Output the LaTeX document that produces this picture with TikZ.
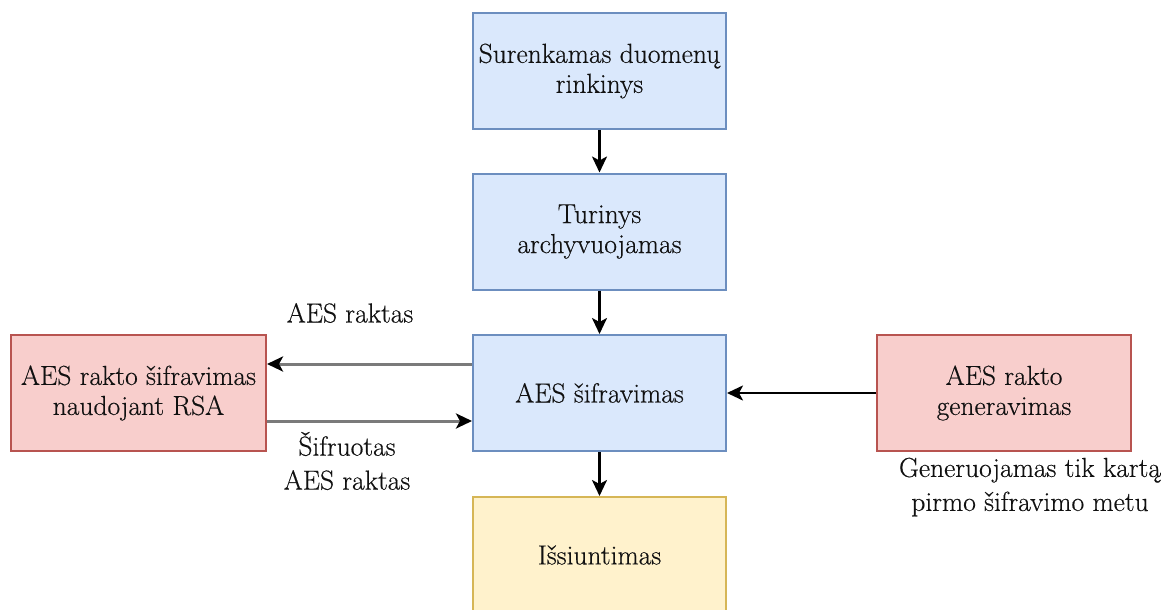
\documentclass[tikz,border=0pt]{standalone}
\usepackage{fontspec}
\setmainfont{Latin Modern Roman}[FakeBold=0.4]
\usetikzlibrary{arrows.meta}
\definecolor{bluefill}{HTML}{DAE8FC}
\definecolor{bluedraw}{HTML}{6C8EBF}
\definecolor{redfill}{HTML}{F8CECC}
\definecolor{reddraw}{HTML}{B85450}
\definecolor{yelfill}{HTML}{FFF2CC}
\definecolor{yeldraw}{HTML}{D6B656}
\definecolor{keyline}{HTML}{7A7A7A}
\definecolor{txt}{HTML}{111111}
\tikzset{
  box/.style={draw, line width=2pt, minimum width=253pt, minimum height=116pt,
    align=center, inner sep=0pt, text=txt, font=\fontsize{27.5}{30}\selectfont},
  bluebox/.style={box, fill=bluefill, draw=bluedraw},
  redbox/.style={box, fill=redfill, draw=reddraw, minimum width=255pt},
  yelbox/.style={box, fill=yelfill, draw=yeldraw},
  lbl/.style={align=center, text=txt, font=\fontsize{27.5}{34}\selectfont, inner sep=0pt},
  flow/.style={line width=2.4pt, -{Stealth[length=16pt,width=15pt,inset=4pt]}},
  keyflow/.style={line width=3pt, draw=keyline, -{Stealth[length=16pt,width=15pt,inset=4pt,color=black]}}
}
\begin{document}
\begin{tikzpicture}[x=1pt,y=-1pt]
\useasboundingbox (0,0) rectangle (1162,610);
\fill[white] (0,0) rectangle (1162,610);

\node[bluebox] (collect) at (599.5,71) {Surenkamas duomenų\\rinkinys};
\node[bluebox] (archive) at (599.5,231.5) {Turinys\\archyvuojamas};
\node[bluebox] (aes) at (599.5,393) {AES šifravimas};
\node[yelbox] (send) at (599.5,555) {Išsiuntimas};
\node[redbox] (rsa) at (138.5,393) {AES rakto šifravimas\\naudojant RSA};
\node[redbox, minimum width=254pt] (gen) at (1004,393) {AES rakto\\generavimas};

\draw[flow] (collect) -- (archive);
\draw[flow] (archive) -- (aes);
\draw[flow] (aes) -- (send);
\draw[flow] (gen.west) -- (aes.east);
\draw[keyflow] (aes.west |- 0,364) -- (rsa.east |- 0,364);
\draw[keyflow] (rsa.east |- 0,421) -- (aes.west |- 0,421);

\node[lbl] (keylbl) at (350,313) {AES raktas};
\node[lbl] (enclbl) at (347,461) {Šifruotas\\AES raktas};
\node[lbl] (genlbl) at (1030,487) {Generuojamas tik kartą\\pirmo šifravimo metu};
\end{tikzpicture}
\end{document}
